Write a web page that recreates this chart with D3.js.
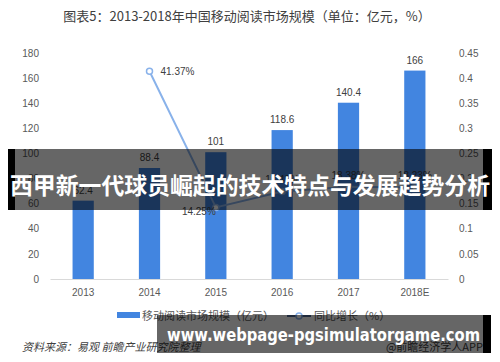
<!DOCTYPE html>
<html>
<head>
<meta charset="utf-8">
<script src="https://cdn.jsdelivr.net/npm/d3@7"></script>
<style>
  body { margin: 0; background: #fff; }
  svg { display: block; font-family: "Noto Sans CJK SC", "DejaVu Sans", sans-serif; }
  .tick text { fill: #595959; font-size: 10px; font-family: "Liberation Sans", "Noto Sans CJK SC", sans-serif; }
  .vlabel { fill: #404040; font-size: 10px; font-family: "Liberation Sans", sans-serif; }
</style>
</head>
<body>
<script>
// data
var years = ["2013", "2014", "2015", "2016", "2017", "2018E"];
var marketSize = [62.4, 88.4, 101, 118.6, 140.4, 166];
var growthYears = ["2014", "2015", "2016", "2017", "2018E"];
var growth = [0.4137, 0.1425, 0.1743, 0.1838, 0.1823];
var leftTicks = [0, 20, 40, 60, 80, 100, 120, 140, 160, 180];
var rightTicks = [0, 0.05, 0.1, 0.15, 0.2, 0.25, 0.3, 0.35, 0.4, 0.45];

var width = 500, height = 362,
    margin = {top: 53, right: 52, bottom: 83, left: 50};

var svg = d3.select("body").append("svg")
    .attr("width", width)
    .attr("height", height);

// scales
var x = d3.scaleBand().domain(years).range([margin.left, width - margin.right]).paddingInner(0.68).paddingOuter(0.34);
var y = d3.scaleLinear().domain([0, 180]).range([height - margin.bottom, margin.top]);
var y2 = d3.scaleLinear().domain([0, 0.45]).range([height - margin.bottom, margin.top]);

// title
svg.append("text")
    .attr("x", 247).attr("y", 21)
    .attr("text-anchor", "middle")
    .style("font-size", "13px")
    .style("fill", "#404040")
    .text("图表5：2013-2018年中国移动阅读市场规模（单位：亿元，%）");

// left axis
var yAxis = svg.append("g")
    .attr("transform", "translate(" + (margin.left - 11) + ",0)")
    .call(d3.axisLeft(y).tickValues(leftTicks).tickSize(0).tickPadding(0));
yAxis.select(".domain").remove();

// right axis
var y2Axis = svg.append("g")
    .attr("transform", "translate(" + 459 + ",0)")
    .call(d3.axisRight(y2).tickValues(rightTicks).tickSize(0).tickPadding(0)
        .tickFormat(function(d) { return d === 0 ? "0" : d3.format("")(+d.toFixed(2)); }));
y2Axis.select(".domain").remove();

// x axis
var xAxis = svg.append("g")
    .attr("transform", "translate(0," + y(0) + ")")
    .call(d3.axisBottom(x).tickSize(0).tickPadding(10));
xAxis.select(".domain").attr("stroke", "#d9d9d9");

// bars
svg.selectAll(".bar")
    .data(marketSize)
    .enter().append("rect")
    .attr("class", "bar")
    .attr("x", function(d, i) { return x(years[i]); })
    .attr("width", x.bandwidth())
    .attr("y", function(d) { return y(d); })
    .attr("height", function(d) { return y(0) - y(d); })
    .attr("fill", "#4285e0");

svg.selectAll(".vlabel.bar-l")
    .data(marketSize)
    .enter().append("text")
    .attr("class", "vlabel bar-l")
    .attr("x", function(d, i) { return x(years[i]) + x.bandwidth() / 2; })
    .attr("y", function(d) { return y(d) - 7; })
    .attr("text-anchor", "middle")
    .text(function(d) { return d; });

// growth line
var line = d3.line()
    .x(function(d, i) { return x(growthYears[i]) + x.bandwidth() / 2; })
    .y(function(d) { return y2(d); });

svg.append("path")
    .datum(growth)
    .attr("d", line)
    .attr("fill", "none")
    .attr("stroke", "#89b2ea")
    .attr("stroke-width", 2);

svg.selectAll(".pt")
    .data(growth)
    .enter().append("circle")
    .attr("class", "pt")
    .attr("cx", function(d, i) { return x(growthYears[i]) + x.bandwidth() / 2; })
    .attr("cy", function(d) { return y2(d); })
    .attr("r", 3)
    .attr("fill", "#fff")
    .attr("stroke", "#89b2ea")
    .attr("stroke-width", 1.5);

svg.selectAll(".vlabel.g-l")
    .data(growth)
    .enter().append("text")
    .attr("class", "vlabel g-l")
    .attr("x", function(d, i) {
      var cx = x(growthYears[i]) + x.bandwidth() / 2;
      return i === 0 ? cx + 11 : cx;
    })
    .attr("y", function(d, i) { return i === 0 ? y2(d) + 4 : (i === 1 ? y2(d) + 8 : y2(d) - 8); })
    .attr("text-anchor", function(d, i) { return i === 0 ? "start" : (i === 1 ? "end" : "middle"); })
    .text(function(d) { return (d * 100).toFixed(2) + "%"; });

// legend
svg.append("rect").attr("x", 117).attr("y", 312).attr("width", 23).attr("height", 6).attr("fill", "#4285e0");
svg.append("text").attr("x", 142).attr("y", 320).style("font-size", "11px").style("fill", "#595959")
    .text("移动阅读市场规模（亿元）");
svg.append("line").attr("x1", 287).attr("x2", 311).attr("y1", 316).attr("y2", 316)
    .attr("stroke", "#4e6a96").attr("stroke-width", 2);
svg.append("circle").attr("cx", 299).attr("cy", 316).attr("r", 3)
    .attr("fill", "#fff").attr("stroke", "#89b2ea").attr("stroke-width", 1.5);
svg.append("text").attr("x", 314).attr("y", 320).style("font-size", "11px").style("fill", "#595959")
    .text("同比增长（%）");

// source
svg.append("text").attr("x", 22).attr("y", 351).style("font-size", "11px").style("font-style", "italic")
    .style("fill", "#404040").text("资料来源：易观 前瞻产业研究院整理");
svg.append("text").attr("x", 483).attr("y", 351).attr("text-anchor", "end").style("font-size", "11px")
    .style("fill", "#404040").text("@前瞻经济学人APP");

// middle banner
svg.append("rect").attr("x", 8).attr("y", 149).attr("width", 7).attr("height", 61).attr("fill", "#000");
svg.append("rect").attr("x", 483).attr("y", 149).attr("width", 9).attr("height", 61).attr("fill", "#000");
svg.append("rect").attr("x", 15).attr("y", 149).attr("width", 468).attr("height", 61).attr("fill", "rgba(0,0,0,0.6)");
svg.append("text").attr("x", 10).attr("y", 194)
    .attr("textLength", 480).attr("lengthAdjust", "spacingAndGlyphs")
    .style("font-size", "23px").style("font-weight", "bold").style("fill", "#fff")
    .text("西甲新一代球员崛起的技术特点与发展趋势分析");

// bottom banner
svg.append("rect").attr("x", 483).attr("y", 315).attr("width", 8).attr("height", 38).attr("fill", "#000");
svg.append("rect").attr("x", 157).attr("y", 315).attr("width", 326).attr("height", 38).attr("fill", "rgba(0,0,0,0.6)");
svg.append("text").attr("x", 167).attr("y", 341)
    .attr("textLength", 313).attr("lengthAdjust", "spacingAndGlyphs")
    .style("font-size", "18px").style("font-weight", "bold").style("fill", "#fff")
    .style("font-family", "'DejaVu Sans', sans-serif")
    .text("www.webpage-pgsimulatorgame.com");
</script>
</body>
</html>
